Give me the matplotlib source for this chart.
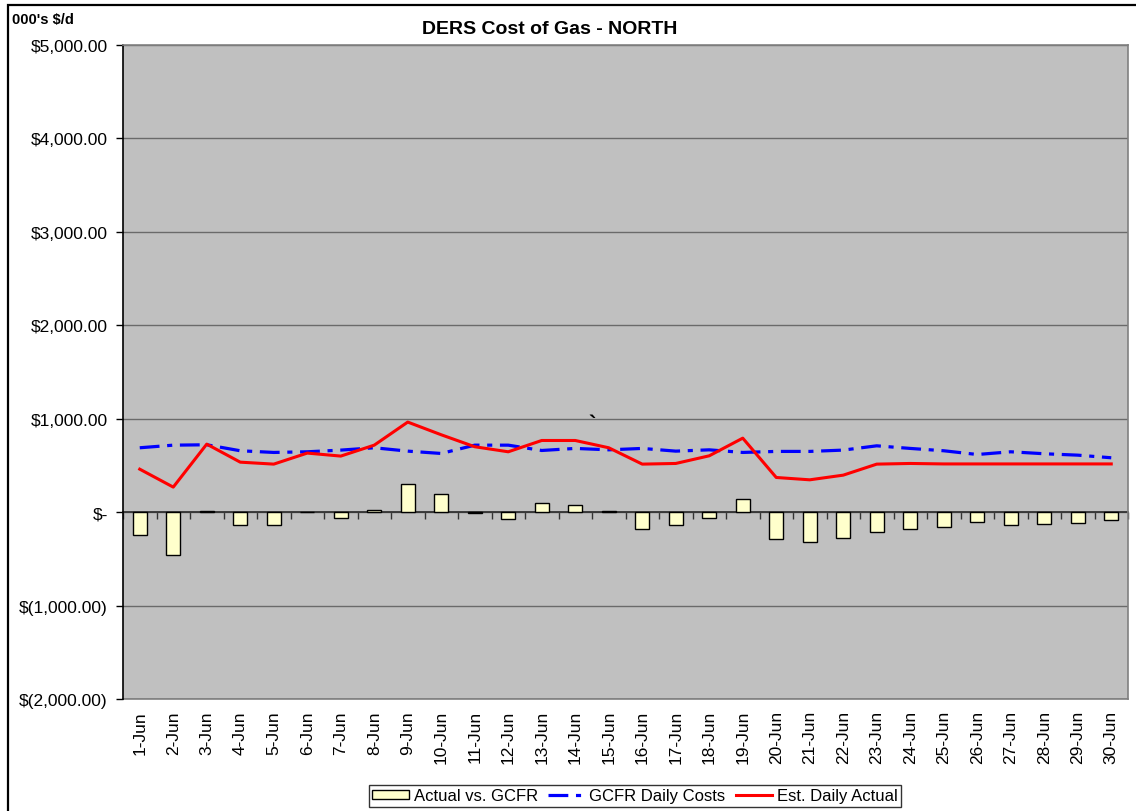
import matplotlib
matplotlib.use('Agg')
import matplotlib.pyplot as plt
from matplotlib.patches import Rectangle
from matplotlib.ticker import FuncFormatter, MultipleLocator

plt.rcParams['font.family'] = ['Liberation Sans', 'DejaVu Sans']

############
#   Data   #
############

days = [f'{d}-Jun' for d in range(1, 31)]

est_daily_actual = [460, 268, 728, 535, 514, 632, 600, 717, 964, 828,
                    700, 646, 767, 767, 689, 514, 521, 603, 792, 371,
                    346, 396, 514, 521, 516, 516, 516, 516, 516, 516]

gcfr_daily_costs = [689, 717, 721, 657, 639, 646, 664, 689, 653, 628,
                    717, 717, 660, 682, 667, 682, 653, 667, 639, 650,
                    650, 664, 710, 682, 657, 617, 646, 625, 610, 582]

actual_vs_gcfr = [-246, -460, 10, -142, -142, 5, -64, 18, 296, 193,
                  -5, -78, 96, 72, 8, -179, -142, -64, 142, -292,
                  -318, -278, -214, -179, -161, -110, -136, -125, -118, -89]


def money(v, _pos=None):
    if abs(v) < 1e-9:
        return '$-'
    if v < 0:
        return f'$({abs(v):,.2f})'
    return f'${v:,.2f}'


############
#  Figure  #
############

fig = plt.figure(figsize=(11.36, 8.12), dpi=100)
fig.patch.set_facecolor('white')

# outer chart border
fig.patches.append(Rectangle((8 / 1136, -0.05), 1.2, 1 - 6 / 812 + 0.05,
                             transform=fig.transFigure, fill=False,
                             edgecolor='black', linewidth=1.6))

ax = fig.add_axes([123 / 1136, 1 - 700 / 812, (1128 - 123) / 1136, (700 - 46) / 812])
ax.set_facecolor('#C0C0C0')

x = list(range(len(days)))

bars = ax.bar(x, actual_vs_gcfr, width=0.42, color='#FFFFCC', edgecolor='black',
              linewidth=1.0, zorder=3, label='Actual vs. GCFR')
gcfr_line, = ax.plot(x, gcfr_daily_costs, color='#0000FF', linewidth=2.3,
                     linestyle=(0, (6.2, 2.4, 1.6, 2.4)), zorder=4,
                     label='GCFR Daily Costs')
est_line, = ax.plot(x, est_daily_actual, color='#FF0000', linewidth=2.2, zorder=5,
                    label='Est. Daily Actual')

ax.set_xlim(-0.5, len(days) - 0.5)
ax.set_ylim(-2000, 5000)

# y axis
ax.yaxis.set_major_locator(MultipleLocator(1000))
ax.yaxis.set_major_formatter(FuncFormatter(money))
ax.tick_params(axis='y', direction='out', length=5, width=1, labelsize=12.5, pad=6)
ax.grid(axis='y', color='#6a6a6a', linewidth=1.0, zorder=1)
ax.set_axisbelow(True)

# category axis crosses at zero, with ticks between categories
ax.spines['bottom'].set_position(('data', 0))
ax.spines['bottom'].set_color('#333333')
ax.spines['bottom'].set_linewidth(1.3)
ax.spines['bottom'].set_zorder(2)
ax.set_xticks([i - 0.5 for i in range(len(days) + 1)])
ax.tick_params(axis='x', direction='out', length=5, width=1, labelbottom=False,
               color='#333333')
ax.spines['left'].set_color('black')
ax.spines['left'].set_linewidth(1.2)
for side in ('top', 'right'):
    ax.spines[side].set_color('#808080')
    ax.spines[side].set_linewidth(1.2)

# labels at the bottom of the plot area
sec = ax.secondary_xaxis(0)
sec.set_xticks(x)
sec.set_xticklabels(days, rotation=90, fontsize=12.5)
sec.tick_params(axis='x', length=0, pad=8)
sec.spines['bottom'].set_color('#808080')
sec.spines['bottom'].set_linewidth(1.2)

# stray mark from the original sheet
ax.text(13.5, 935, '`', fontsize=16, fontweight='bold', ha='center',
        va='center', zorder=6)

fig.text(550 / 1136, 1 - 30 / 812, 'DERS Cost of Gas - NORTH', ha='center',
         va='center', fontsize=14, fontweight='bold')
fig.text(12 / 1136, 1 - 20 / 812, "000's $/d", ha='left', va='center',
         fontsize=10.5, fontweight='bold')

leg = fig.legend(handles=[bars, gcfr_line, est_line],
                 loc='upper center', bbox_to_anchor=(635 / 1136, 1 - 786 / 812),
                 ncol=3, fontsize=12, frameon=True, fancybox=False,
                 edgecolor='black', handlelength=2.2, handleheight=0.5,
                 columnspacing=0.6, handletextpad=0.3, borderpad=0.2,
                 borderaxespad=0)
leg.get_frame().set_linewidth(1.0)

fig.savefig('out.png', dpi=100)
